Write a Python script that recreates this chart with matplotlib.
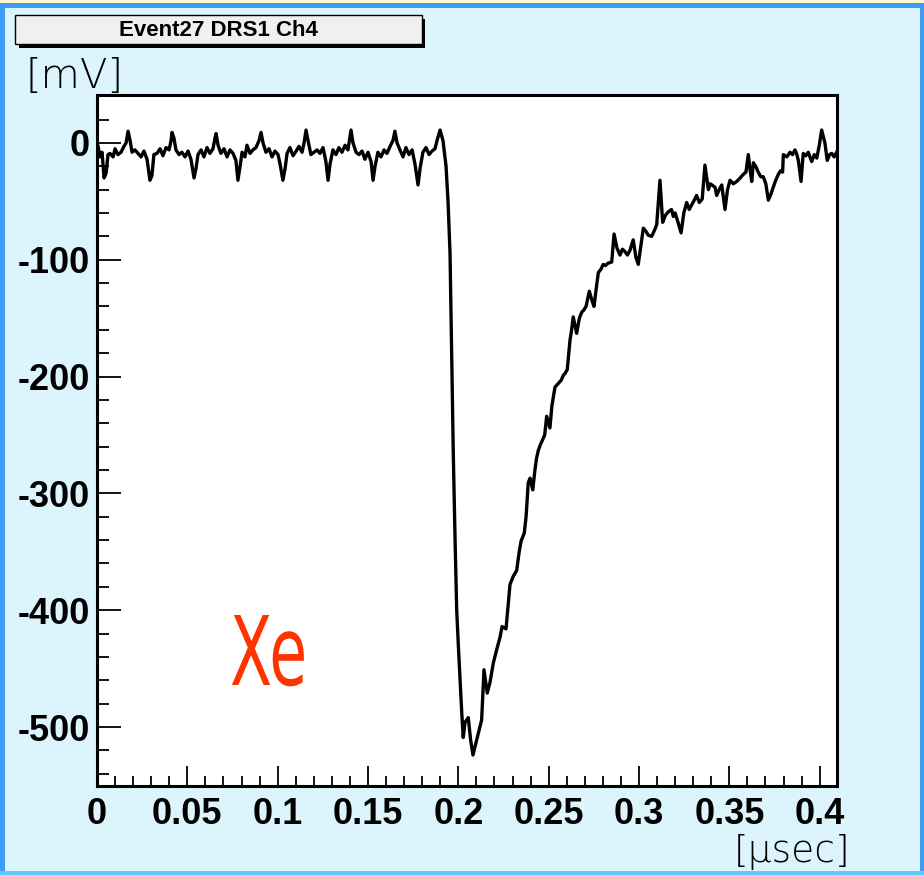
# Xe scintillation pulse, DRS1 channel 4, event 27
import numpy as np
import matplotlib
matplotlib.use('Agg')
import matplotlib.pyplot as plt
import matplotlib.transforms as mtransforms
from matplotlib.patches import Rectangle, PathPatch
from matplotlib.textpath import TextPath
from matplotlib.font_manager import FontProperties
from matplotlib.ticker import MultipleLocator

plt.rcParams['axes.unicode_minus'] = False

# --- waveform (time in ns, amplitude in mV) ---
t_ns = [0.6, 1.7, 2.8, 3.9, 5.0, 6.1, 7.2, 8.9, 10.0, 11.6, 13.3, 14.9, 16.1, 17.2,
        18.3, 19.4, 21.0, 22.7, 24.4, 26.0, 27.7, 29.3, 30.4, 31.5, 33.2, 34.9,
        36.5, 38.2, 39.9, 41.0, 41.5, 42.6, 43.7, 45.4, 47.0, 48.7, 50.4, 52.0,
        53.7, 54.8, 55.9, 57.6, 59.2, 60.9, 62.5, 64.2, 65.3, 65.9, 67.0, 68.6,
        70.3, 72.0, 73.6, 75.3, 76.9, 78.0, 79.2, 80.3, 81.9, 83.0, 84.7, 86.3,
        88.0, 89.7, 90.8, 91.9, 93.5, 95.2, 96.9, 98.5, 100.2, 101.3, 102.9,
        104.1, 105.2, 106.8, 108.5, 110.2, 111.8, 113.5, 114.6, 115.7, 116.8,
        118.4, 120.1, 121.8, 123.4, 125.1, 126.7, 127.9, 129.0, 130.6, 132.3,
        133.9, 135.6, 137.3, 138.9, 139.5, 140.6, 141.7, 143.4, 145.0, 146.7,
        148.3, 150.0, 151.7, 152.8, 153.9, 155.5, 157.2, 158.9, 160.5, 162.2,
        163.8, 164.9, 166.1, 167.7, 169.4, 171.0, 172.7, 174.4, 176.0, 177.7,
        178.8, 180.4, 182.1, 183.8, 185.4, 187.1, 188.2, 189.9,
        # pulse
        191.5, 193.2, 194.3, 195.4, 196.3, 197.2, 198.2, 199.1, 200.0, 200.9,
        201.9, 202.7, 203.7, 205.5, 206.8, 208.1, 211.1, 212.9, 214.2, 216.0,
        217.5, 219.4, 221.2, 223.1, 224.2, 226.4, 227.7, 228.6, 230.4, 232.3,
        233.6, 234.7, 236.5, 237.5, 238.7, 239.7, 241.2, 242.4, 244.3, 246.7,
        248.9, 250.7, 251.8, 253.5, 255.3, 258.1, 260.3, 261.8, 263.6, 265.5,
        268.3, 270.7, 272.5, 274.0, 275.1, 277.5, 280.2, 282.8, 284.9, 286.2,
        287.8, 289.5, 292.2, 295.0, 296.8, 298.3, 299.6, 302.4, 305.1, 308.8,
        310.7, 311.6, 313.1, 316.2, 320.0, 321.6, 323.3, 326.4, 329.2, 331.9,
        333.4, 336.5, 338.4, 340.4, 342.1, 343.0, 345.8, 347.6, 350.4, 354.1,
        357.7, 360.5, 362.4, 363.3, 366.0, 368.8, 371.6, 374.3, 377.1, 379.5,
        379.9, 383.6, 386.3, 388.2, 389.7, 390.9, 393.7, 395.6, 398.4, 401.1,
        402.9, 404.2, 406.7, 409.4]

mv = [-3, -12, -8, -30, -26, -10, -9, -12, -5, -10, -8, -3, 0, 10,
      2, -8, -6, -9, -12, -7, -14, -32, -28, -10, -9, -5,
      -11, -4, -6, 2, 9, 4, -6, -10, -8, -12, -7, -14,
      -30, -22, -10, -6, -12, -4, -9, -5, 4, 8, -2, -9,
      -5, -12, -6, -9, -15, -32, -20, -8, -12, -2, -9, -6,
      -4, 2, 9, 0, -8, -5, -12, -7, -10, -18, -32,
      -22, -9, -4, -11, -7, -3, -8, 0, 11, 2,
      -10, -8, -6, -9, -4, -16, -32, -18, -6, -10,
      -4, -8, -2, -6, 0, 11, 0, -8, -10, -7,
      -14, -8, -16, -32, -20, -8, -12, -6, -9, -3,
      2, 10, 0, -6, -12, -4, -10, -6, -18, -36,
      -22, -8, -4, -10, -7, -5, 2, 11,
      # pulse
      2, -20, -50, -94, -180, -265, -340, -400, -430, -457,
      -488, -509, -496, -492, -511, -524, -505, -494, -451, -471,
      -462, -445, -434, -423, -414, -416, -394, -378, -371, -366,
      -351, -341, -334, -320, -291, -287, -297, -280, -263, -254,
      -234, -244, -225, -209, -206, -199, -194, -169, -149, -163,
      -145, -140, -127, -135, -140, -111, -104, -103, -102, -78,
      -90, -96, -93, -92, -83, -98, -104, -73, -79, -74,
      -51, -32, -68, -59, -60, -68, -77, -51, -53, -45,
      -51, -19, -40, -36, -38, -45, -36, -57, -32, -33,
      -27, -10, -33, -17, -25, -29, -49, -38, -27, -25,
      -10, -8, -6, -15, -33, -9, -8, -16, -13, 11,
      0, -15, -9, -8]

# extra wiggles read from the slow tail
extra_t_ns = [243.3, 245.5, 247.8, 257.0, 259.2, 262.7, 267.0, 269.5, 276.3, 279.0,
              281.5, 290.8, 293.6, 304.0, 307.0, 309.8, 314.6, 318.0, 319.0, 324.8,
              327.8, 330.6, 335.0, 339.4, 344.4, 349.0, 352.2, 356.0, 359.2, 361.4,
              364.6, 367.4, 370.2, 373.0, 375.7, 378.3, 381.8, 385.0, 387.2, 392.3,
              394.6, 397.0, 399.8, 405.5, 408.0]
extra_mv = [-270, -258, -250, -203, -197, -160, -150, -143, -125, -108,
            -105, -91, -96, -76, -80, -70, -62, -57, -63, -60,
            -57, -49, -48, -35, -40, -40, -35, -30, -25, -22,
            -20, -29, -35, -44, -32, -24, -12, -10, -9, -11,
            -12, -10, -2, -10, -12]

x_ticks = [0, 0.05, 0.1, 0.15, 0.2, 0.25, 0.3, 0.35, 0.4]
x_ticklabels = ['0', '0.05', '0.1', '0.15', '0.2', '0.25', '0.3', '0.35', '0.4']
y_ticks = [0, -100, -200, -300, -400, -500]

# merge the two readings in time order
tt = np.array(t_ns + extra_t_ns)
vv = np.array(mv + extra_mv)
order = np.argsort(tt, kind='stable')
tt, vv = tt[order], vv[order]

W, H = 924, 875
fig = plt.figure(figsize=(W / 100, H / 100), dpi=100)
fig.patch.set_facecolor('#dcf4fc')

def px_rect(x0, y0, x1, y1, **kw):
    # rectangle given in pixel coords measured from the top-left corner
    r = Rectangle((x0 / W, 1 - y1 / H), (x1 - x0) / W, (y1 - y0) / H,
                  transform=fig.transFigure, **kw)
    fig.patches.append(r)
    return r

# window frame
px_rect(0, 0, W, 3, fc='#fffbd0', ec='none')
px_rect(0, 3, W, 8, fc='#3d9cf5', ec='none')
px_rect(0, 3, 5, H, fc='#3d9cf5', ec='none')
px_rect(W - 4, 3, W, H, fc='#3d9cf5', ec='none')
px_rect(0, H - 4, W, H, fc='#66c8ff', ec='none')

# title box with shadow
px_rect(19, 19, 425, 48, fc='black', ec='none')
px_rect(15, 15, 422, 44, fc='#f0f0f0', ec='black', lw=1.0)
fig.text(218 / W, 1 - 30 / H, 'Event27 DRS1 Ch4', ha='center', va='center',
         fontsize=16, fontweight='bold', family='Liberation Sans')

ax = fig.add_axes([97 / W, 1 - 786 / H, 740 / W, 691 / H])
ax.set_facecolor('white')
ax.plot(tt / 1000.0, vv, color='black', lw=2.4)
ax.set_xlim(0, 0.4096)
ax.set_ylim(-550.5, 41)

ax.set_xticks(x_ticks)
ax.set_xticklabels(x_ticklabels)
ax.set_yticks(y_ticks)
ax.xaxis.set_minor_locator(MultipleLocator(0.01))
ax.yaxis.set_minor_locator(MultipleLocator(20))
ax.tick_params(axis='x', which='major', direction='in', length=14.5, width=1.3, pad=8)
ax.tick_params(axis='x', which='minor', direction='in', length=7.2, width=1.3)
ax.tick_params(axis='y', which='major', direction='in', length=17, width=1.3, pad=5)
ax.tick_params(axis='y', which='minor', direction='in', length=8.6, width=1.3)
for lab in ax.get_xticklabels() + ax.get_yticklabels():
    lab.set_fontfamily('Liberation Sans')
    lab.set_fontweight('bold')
    lab.set_fontsize(26)
for s in ax.spines.values():
    s.set_linewidth(2.2)

# axis unit labels
fig.text(25 / W, 1 - 88 / H, '[mV]', ha='left', va='baseline', fontsize=29,
         fontweight='light', family='DejaVu Sans')
fig.text(850 / W, 1 - 862 / H, '[\u03bcsec]', ha='right', va='baseline', fontsize=27,
         fontweight='light', family='DejaVu Sans')

# narrow red "Xe" label
tp = TextPath((0, 0), 'Xe', size=1, prop=FontProperties(family='DejaVu Sans'))
sy = 0.70 / 0.729
tr = mtransforms.Affine2D().scale(sy * 0.64, sy).translate(2.30, (H - 685) / 100) + fig.dpi_scale_trans
fig.patches.append(PathPatch(tp, transform=tr, fc='#ff3300', ec='none'))

fig.savefig('out.png', dpi=100, facecolor=fig.get_facecolor())
